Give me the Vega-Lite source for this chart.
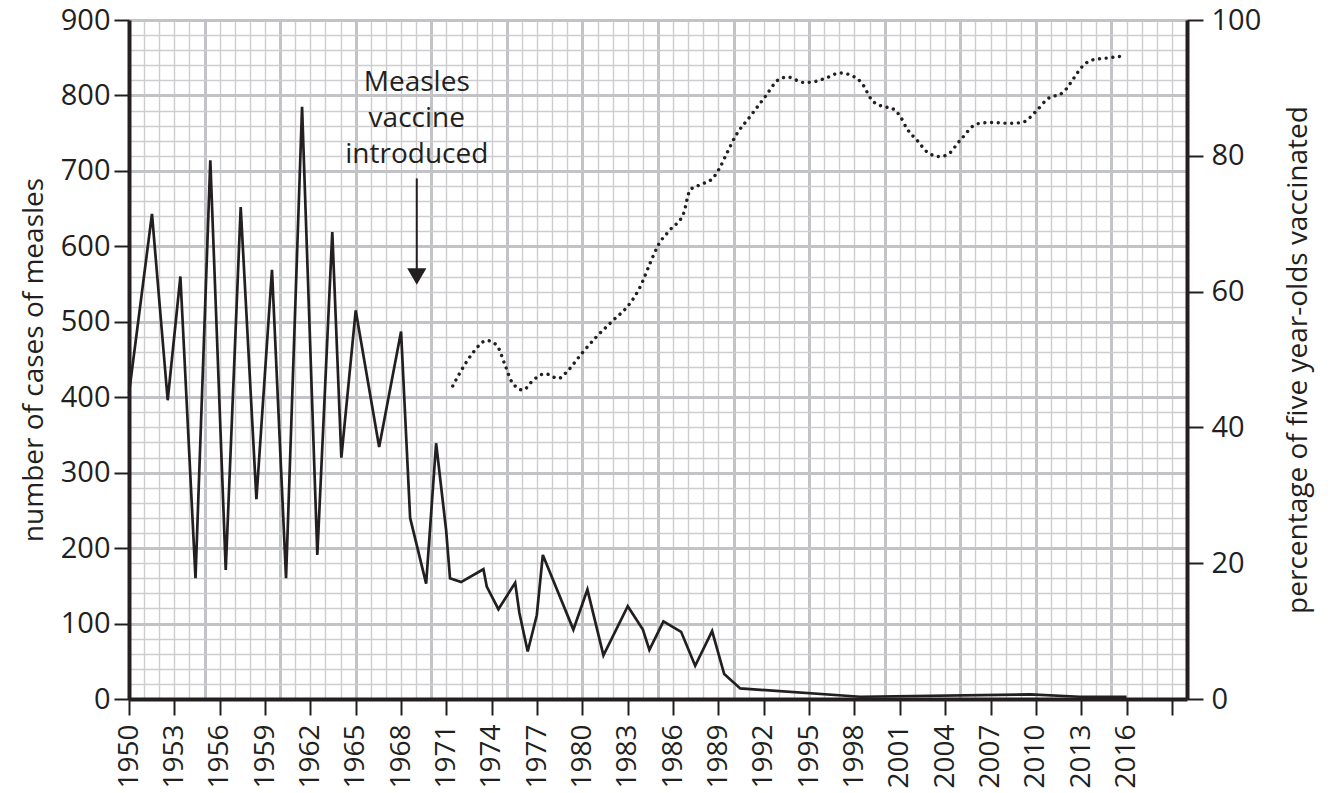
{
  "$schema": "https://vega.github.io/schema/vega-lite/v6.json",
  "width": 1058,
  "height": 679,
  "autosize": "none",
  "padding": {"left": 129, "top": 20, "right": 144, "bottom": 94},
  "background": "white",
  "config": {
    "font": "Open Sans",
    "view": {"stroke": null},
    "axis": {"labelFlush": false, "labelOverlap": false, "labelBound": false, "titleFontWeight": "normal", "labelColor": "#231f20", "titleColor": "#231f20", "domainColor": "#231f20", "tickColor": "#231f20", "labelFont": "Open Sans", "titleFont": "Open Sans"}
  },
  "datasets": {
    "cases": [
      {"year": 1950.0, "cases": 405}, {"year": 1951.52, "cases": 643}, {"year": 1952.56, "cases": 396},
      {"year": 1953.4, "cases": 560}, {"year": 1954.4, "cases": 160}, {"year": 1955.38, "cases": 714},
      {"year": 1956.4, "cases": 171}, {"year": 1957.39, "cases": 652}, {"year": 1958.43, "cases": 265},
      {"year": 1959.46, "cases": 569}, {"year": 1960.39, "cases": 160}, {"year": 1961.45, "cases": 785},
      {"year": 1962.46, "cases": 191}, {"year": 1963.45, "cases": 619}, {"year": 1964.05, "cases": 320},
      {"year": 1965.0, "cases": 515}, {"year": 1966.55, "cases": 334}, {"year": 1968.0, "cases": 487},
      {"year": 1968.6, "cases": 240}, {"year": 1969.66, "cases": 153}, {"year": 1970.32, "cases": 339},
      {"year": 1970.98, "cases": 224}, {"year": 1971.24, "cases": 160}, {"year": 1971.97, "cases": 155},
      {"year": 1973.45, "cases": 172}, {"year": 1973.67, "cases": 149}, {"year": 1974.44, "cases": 119},
      {"year": 1975.55, "cases": 154}, {"year": 1975.83, "cases": 114}, {"year": 1976.38, "cases": 63},
      {"year": 1976.98, "cases": 111}, {"year": 1977.38, "cases": 191}, {"year": 1979.4, "cases": 92},
      {"year": 1980.33, "cases": 145}, {"year": 1981.39, "cases": 58}, {"year": 1983.0, "cases": 123},
      {"year": 1984.0, "cases": 92}, {"year": 1984.43, "cases": 65}, {"year": 1985.36, "cases": 103},
      {"year": 1986.53, "cases": 89}, {"year": 1987.46, "cases": 44}, {"year": 1988.58, "cases": 90},
      {"year": 1989.38, "cases": 33}, {"year": 1990.44, "cases": 14}, {"year": 1998.38, "cases": 3},
      {"year": 2009.6, "cases": 6}, {"year": 2012.9, "cases": 3}, {"year": 2016.0, "cases": 3}
    ],
    "vacc": [
      {"year": 1971.42, "pct": 46.1}, {"year": 1972.12, "pct": 48.9}, {"year": 1972.79, "pct": 51.1},
      {"year": 1973.67, "pct": 52.8}, {"year": 1974.33, "pct": 52.1}, {"year": 1974.88, "pct": 49.2},
      {"year": 1975.33, "pct": 46.7}, {"year": 1976.06, "pct": 45.5}, {"year": 1976.76, "pct": 47.0},
      {"year": 1977.53, "pct": 47.9}, {"year": 1978.41, "pct": 47.2}, {"year": 1978.97, "pct": 48.2},
      {"year": 1979.96, "pct": 50.9}, {"year": 1980.95, "pct": 53.4}, {"year": 1982.05, "pct": 55.8},
      {"year": 1983.16, "pct": 58.3}, {"year": 1983.82, "pct": 60.7}, {"year": 1984.48, "pct": 64.2},
      {"year": 1985.03, "pct": 66.9}, {"year": 1985.8, "pct": 69.1}, {"year": 1986.69, "pct": 71.5},
      {"year": 1987.13, "pct": 75.0}, {"year": 1988.0, "pct": 75.9}, {"year": 1988.67, "pct": 76.8},
      {"year": 1989.05, "pct": 78.1}, {"year": 1989.56, "pct": 80.4}, {"year": 1990.1, "pct": 82.8},
      {"year": 1991.1, "pct": 85.8}, {"year": 1992.09, "pct": 88.7}, {"year": 1992.97, "pct": 91.2},
      {"year": 1993.57, "pct": 91.6}, {"year": 1994.63, "pct": 90.8}, {"year": 1995.29, "pct": 90.9},
      {"year": 1996.06, "pct": 91.4}, {"year": 1997.05, "pct": 92.2}, {"year": 1997.83, "pct": 91.8},
      {"year": 1998.49, "pct": 90.7}, {"year": 1999.15, "pct": 88.2}, {"year": 1999.81, "pct": 87.3},
      {"year": 2000.47, "pct": 87.0}, {"year": 2001.03, "pct": 85.8}, {"year": 2001.47, "pct": 84.0},
      {"year": 2002.13, "pct": 82.3}, {"year": 2002.9, "pct": 80.4}, {"year": 2003.6, "pct": 79.9},
      {"year": 2004.1, "pct": 80.1}, {"year": 2005.0, "pct": 82.3}, {"year": 2006.1, "pct": 84.7},
      {"year": 2006.98, "pct": 84.9}, {"year": 2008.3, "pct": 84.8}, {"year": 2009.08, "pct": 84.9},
      {"year": 2010.07, "pct": 86.7}, {"year": 2010.73, "pct": 88.3}, {"year": 2011.83, "pct": 89.4},
      {"year": 2012.5, "pct": 91.4}, {"year": 2013.05, "pct": 93.1}, {"year": 2013.71, "pct": 94.1},
      {"year": 2014.7, "pct": 94.4}, {"year": 2015.8, "pct": 94.7}
    ]
  },
  "layer": [
    {
      "data": {"name": "cases"},
      "mark": {"type": "line", "opacity": 0},
      "encoding": {
        "x": {"field": "year", "type": "quantitative", "scale": {"domain": [1950, 2020], "nice": false, "zero": false},
          "axis": {"orient": "bottom", "values": [1950,1951,1952,1953,1954,1955,1956,1957,1958,1959,1960,1961,1962,1963,1964,1965,1966,1967,1968,1969,1970,1971,1972,1973,1974,1975,1976,1977,1978,1979,1980,1981,1982,1983,1984,1985,1986,1987,1988,1989,1990,1991,1992,1993,1994,1995,1996,1997,1998,1999,2000,2001,2002,2003,2004,2005,2006,2007,2008,2009,2010,2011,2012,2013,2014,2015,2016,2017,2018,2019,2020],
            "grid": true, "gridColor": "#cdcdd0", "gridWidth": 1.4, "domain": false, "ticks": false, "labels": false, "title": null, "zindex": 0}},
        "y": {"field": "cases", "type": "quantitative", "scale": {"domain": [0, 900], "nice": false, "zero": false},
          "axis": {"orient": "left", "values": [0,20,40,60,80,100,120,140,160,180,200,220,240,260,280,300,320,340,360,380,400,420,440,460,480,500,520,540,560,580,600,620,640,660,680,700,720,740,760,780,800,820,840,860,880,900],
            "grid": true, "gridColor": "#cdcdd0", "gridWidth": 1.4, "domain": false, "ticks": false, "labels": false, "title": null, "zindex": 0}}
      }
    },
    {
      "data": {"name": "cases"},
      "mark": {"type": "line", "opacity": 0},
      "encoding": {
        "x": {"field": "year", "type": "quantitative", "scale": {"domain": [1950, 2020], "nice": false, "zero": false},
          "axis": {"orient": "bottom", "values": [1950,1955,1960,1965,1970,1975,1980,1985,1990,1995,2000,2005,2010,2015,2020],
            "grid": true, "gridColor": "#c2c3c6", "gridWidth": 3, "domain": false, "ticks": false, "labels": false, "title": null, "zindex": 0}},
        "y": {"field": "cases", "type": "quantitative", "scale": {"domain": [0, 900], "nice": false, "zero": false},
          "axis": {"orient": "left", "values": [0,100,200,300,400,500,600,700,800,900],
            "grid": true, "gridColor": "#c2c3c6", "gridWidth": 3, "domain": false, "ticks": false, "labels": false, "title": null, "zindex": 0}}
      }
    },
    {
      "data": {"name": "cases"},
      "mark": {"type": "line", "color": "#231f20", "strokeWidth": 2.7},
      "encoding": {
        "x": {"field": "year", "type": "quantitative", "scale": {"domain": [1950, 2020], "nice": false, "zero": false},
          "axis": {"orient": "bottom", "values": [1950,1953,1956,1959,1962,1965,1968,1971,1974,1977,1980,1983,1986,1989,1992,1995,1998,2001,2004,2007,2010,2013,2016,2019],
            "format": "d", "labelExpr": "datum.value > 2016 ? '' : datum.label", "labelAngle": -90, "labelAlign": "right", "labelBaseline": "middle",
            "labelFontSize": 28, "labelPadding": 9, "tickSize": 16, "tickWidth": 2, "domainWidth": 4, "grid": false, "title": null, "zindex": 1}},
        "y": {"field": "cases", "type": "quantitative", "scale": {"domain": [0, 900], "nice": false, "zero": false},
          "axis": {"orient": "left", "values": [0,100,200,300,400,500,600,700,800,900],
            "labelFontSize": 29, "labelPadding": 4, "tickSize": 15, "tickWidth": 2, "domainWidth": 4, "grid": false,
            "title": "number of cases of measles", "titleFontSize": 28, "titlePadding": 12, "zindex": 1}}
      }
    },
    {
      "data": {"name": "vacc"},
      "mark": {"type": "line", "color": "#231f20", "strokeWidth": 3.4, "strokeDash": [0.01, 6.7], "strokeCap": "round", "interpolate": "monotone"},
      "encoding": {
        "x": {"field": "year", "type": "quantitative", "scale": {"domain": [1950, 2020], "nice": false, "zero": false}, "axis": null},
        "y": {"field": "pct", "type": "quantitative", "scale": {"domain": [0, 100], "nice": false, "zero": false},
          "axis": {"orient": "right", "values": [0,20,40,60,80,100],
            "labelFontSize": 29, "labelPadding": 8, "tickSize": 16, "tickWidth": 2, "domainWidth": 4, "grid": false,
            "title": "percentage of five year-olds vaccinated", "titleFontSize": 28, "titleAngle": 270, "titleBaseline": "top", "titlePadding": 24, "zindex": 1}}
      }
    },
    {
      "data": {"values": [{}]},
      "mark": {"type": "text", "text": ["Measles", "vaccine", "introduced"], "font": "Open Sans", "fontSize": 28, "lineHeight": 36, "align": "center", "baseline": "alphabetic", "color": "#231f20"},
      "encoding": {
        "x": {"datum": 1969.04, "type": "quantitative", "scale": {"domain": [1950, 2020], "nice": false, "zero": false}, "axis": null},
        "y": {"datum": 806, "type": "quantitative", "scale": {"domain": [0, 900], "nice": false, "zero": false}, "axis": null}
      }
    },
    {
      "data": {"values": [{}]},
      "mark": {"type": "rule", "color": "#231f20", "strokeWidth": 2},
      "encoding": {
        "x": {"datum": 1969.04, "type": "quantitative", "scale": {"domain": [1950, 2020], "nice": false, "zero": false}, "axis": null},
        "y": {"datum": 690, "type": "quantitative", "scale": {"domain": [0, 900], "nice": false, "zero": false}, "axis": null},
        "y2": {"datum": 566}
      }
    },
    {
      "data": {"values": [{}]},
      "mark": {"type": "point", "shape": "triangle-down", "size": 370, "filled": true, "color": "#231f20", "opacity": 1, "strokeWidth": 0},
      "encoding": {
        "x": {"datum": 1969.04, "type": "quantitative", "scale": {"domain": [1950, 2020], "nice": false, "zero": false}, "axis": null},
        "y": {"datum": 560, "type": "quantitative", "scale": {"domain": [0, 900], "nice": false, "zero": false}, "axis": null}
      }
    }
  ],
  "resolve": {"scale": {"y": "independent"}, "axis": {"x": "independent", "y": "independent"}}
}
